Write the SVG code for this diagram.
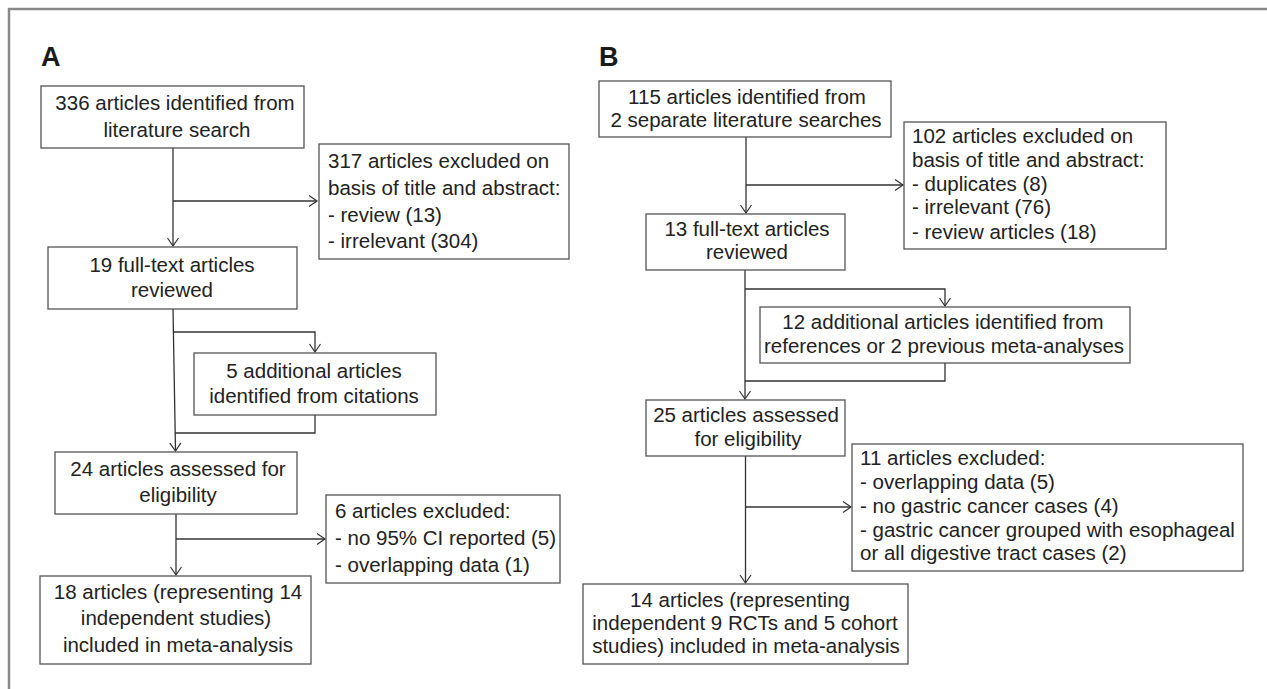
<svg xmlns="http://www.w3.org/2000/svg" width="1267" height="689" viewBox="0 0 1267 689">
<style>
.box{fill:#fff;stroke:#555;stroke-width:1.3}
.t{font-family:"Liberation Sans",Arial,sans-serif;font-size:20.5px;fill:#222}
.c{text-anchor:middle}
.lbl{font-family:"Liberation Sans",Arial,sans-serif;font-size:27px;font-weight:bold;fill:#1a1a1a}
.conn{fill:none;stroke:#333;stroke-width:1.3}
.frame{fill:none;stroke:#888;stroke-width:2.5}
</style>
<defs>
<marker id="arr" viewBox="-10 -7 12 14" refX="0" refY="0" markerWidth="12" markerHeight="14" markerUnits="userSpaceOnUse" orient="auto">
<path d="M-8,-5.5 L0,0 L-8,5.5" fill="none" stroke="#333" stroke-width="1.2"/>
</marker>
</defs>
<rect width="1267" height="689" fill="#fff"/>
<path class="frame" d="M9,689 V9 H1267"/>
<text class="lbl" x="41" y="66">A</text>
<text class="lbl" x="599" y="66">B</text>

<g id="connectors">
<path class="conn" d="M173,148 V246" marker-end="url(#arr)"/>
<path class="conn" d="M173,201 H317" marker-end="url(#arr)"/>
<path class="conn" d="M173,309 L175.5,451" marker-end="url(#arr)"/>
<path class="conn" d="M173,332 H315 V352" marker-end="url(#arr)"/>
<path class="conn" d="M315,415 V433 H175.2"/>
<path class="conn" d="M176,514 V575" marker-end="url(#arr)"/>
<path class="conn" d="M176,539 H325" marker-end="url(#arr)"/>
<path class="conn" d="M746,137 V213" marker-end="url(#arr)"/>
<path class="conn" d="M746,185 H903" marker-end="url(#arr)"/>
<path class="conn" d="M745,270 V399" marker-end="url(#arr)"/>
<path class="conn" d="M745,289 H945 V306" marker-end="url(#arr)"/>
<path class="conn" d="M945,363 V381 H745"/>
<path class="conn" d="M745.5,456 V583" marker-end="url(#arr)"/>
<path class="conn" d="M745.5,507 H851" marker-end="url(#arr)"/>
</g>

<g id="a1">
<rect class="box" x="41" y="86" width="263" height="62"/>
<text class="t c" x="175" y="110">336 articles identified from</text>
<text class="t c" x="177" y="137">literature search</text>
</g>
<g id="a_excl1">
<rect class="box" x="319" y="144" width="250" height="115"/>
<text class="t" x="328" y="168">317 articles excluded on</text>
<text class="t" x="328" y="195">basis of title and abstract:</text>
<text class="t" x="328" y="222">- review (13)</text>
<text class="t" x="328" y="248">- irrelevant (304)</text>
</g>
<g id="a2">
<rect class="box" x="48" y="247" width="249" height="62"/>
<text class="t c" x="172" y="272">19 full-text articles</text>
<text class="t c" x="172" y="297">reviewed</text>
</g>
<g id="a3">
<rect class="box" x="194" y="353" width="242" height="62"/>
<text class="t c" x="314" y="378">5 additional articles</text>
<text class="t c" x="314" y="403">identified from citations</text>
</g>
<g id="a4">
<rect class="box" x="55" y="452" width="242" height="62"/>
<text class="t c" x="178" y="476">24 articles assessed for</text>
<text class="t c" x="178" y="502">eligibility</text>
</g>
<g id="a5">
<rect class="box" x="326" y="495" width="234" height="88"/>
<text class="t" x="335" y="518">6 articles excluded:</text>
<text class="t" x="335" y="545">- no 95% CI reported (5)</text>
<text class="t" x="335" y="572">- overlapping data (1)</text>
</g>
<g id="a6">
<rect class="box" x="40" y="576" width="271" height="88"/>
<text class="t c" x="178" y="599">18 articles (representing 14</text>
<text class="t c" x="176" y="625">independent studies)</text>
<text class="t c" x="178" y="652">included in meta-analysis</text>
</g>

<g id="b1">
<rect class="box" x="599" y="81" width="292" height="56"/>
<text class="t c" x="747" y="104">115 articles identified from</text>
<text class="t c" x="746" y="127">2 separate literature searches</text>
</g>
<g id="b_excl1">
<rect class="box" x="904" y="122" width="262" height="127"/>
<text class="t" x="912" y="143">102 articles excluded on</text>
<text class="t" x="912" y="167">basis of title and abstract:</text>
<text class="t" x="912" y="191">- duplicates (8)</text>
<text class="t" x="912" y="214">- irrelevant (76)</text>
<text class="t" x="912" y="239">- review articles (18)</text>
</g>
<g id="b2">
<rect class="box" x="646" y="214" width="199" height="56"/>
<text class="t c" x="747" y="236">13 full-text articles</text>
<text class="t c" x="747" y="259">reviewed</text>
</g>
<g id="b3">
<rect class="box" x="760" y="307" width="370" height="56"/>
<text class="t c" x="943" y="329">12 additional articles identified from</text>
<text class="t c" x="944" y="353">references or 2 previous meta-analyses</text>
</g>
<g id="b4">
<rect class="box" x="646" y="400" width="199" height="56"/>
<text class="t c" x="746" y="422">25 articles assessed</text>
<text class="t c" x="748" y="446">for eligibility</text>
</g>
<g id="b5">
<rect class="box" x="852" y="444" width="391" height="127"/>
<text class="t" x="860" y="465">11 articles excluded:</text>
<text class="t" x="860" y="489">- overlapping data (5)</text>
<text class="t" x="860" y="513">- no gastric cancer cases (4)</text>
<text class="t" x="860" y="537">- gastric cancer grouped with esophageal</text>
<text class="t" x="860" y="560">or all digestive tract cases (2)</text>
</g>
<g id="b6">
<rect class="box" x="583" y="584" width="325" height="80"/>
<text class="t c" x="740" y="607">14 articles (representing</text>
<text class="t c" x="745" y="630">independent 9 RCTs and 5 cohort</text>
<text class="t c" x="746" y="653">studies) included in meta-analysis</text>
</g>
</svg>
